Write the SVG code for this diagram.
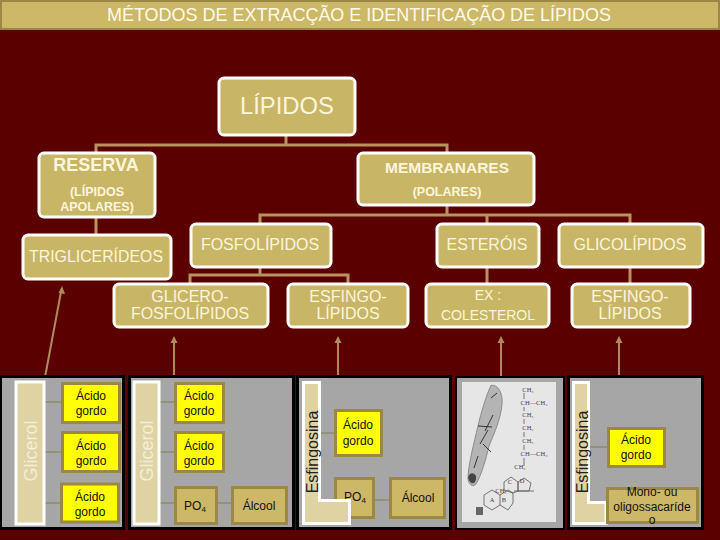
<svg xmlns="http://www.w3.org/2000/svg" width="720" height="540" viewBox="0 0 720 540">
<style>
text{font-family:"Liberation Sans",Arial,sans-serif;text-anchor:middle}
.n{fill:#c9b566;stroke:#fff;stroke-width:3}
.t{fill:#fbf6dc}
.b{font-weight:bold}
.c path{stroke:#b8935f;stroke-width:3;fill:none}
.a line{stroke:#b08a5c;stroke-width:2}
.a path{fill:#b08a5c}
.s{stroke:#8c8c6c;stroke-width:1.5;fill:none}
.p{fill:#a6a6a6;stroke:#000;stroke-width:3}
.y{fill:#ff0;stroke:#9a8844;stroke-width:3}
.k{fill:#ccb866;stroke:#9a8844;stroke-width:3}
.w{fill:#e0d3a3;stroke:#fff;stroke-width:3}
.d{fill:#111;font-size:12px}
.m{font-family:"Liberation Serif",serif;font-size:6.500px;fill:#444}
.h{fill:none;stroke:#555;stroke-width:.8}
</style>
<rect width="720" height="540" fill="#5a0000"/>
<g id="banner"><rect x="1" y="1" width="718" height="28" fill="#ccb866" stroke="#9a8844" stroke-width="2"/>
<text x="359" y="20.500" font-size="18" fill="#fffbe8" textLength="504" lengthAdjust="spacingAndGlyphs">MÉTODOS DE EXTRACÇÃO E IDENTIFICAÇÃO DE LÍPIDOS</text></g>
<g class="c" id="connectors">
<path d="M286 135V145M96 152V145H447V152M447 206V215M260 223V215H630V223M487 215V223M96 218V234M260 267V275M190 283V275H348V283M487 267V283M630 267V283"/>
</g>
<g id="lipidos"><rect class="n" x="219" y="78" width="136" height="57" rx="5"/><text class="t" x="287" y="114" font-size="24" textLength="94" lengthAdjust="spacingAndGlyphs">LÍPIDOS</text></g>
<g id="reserva"><rect class="n" x="39" y="153" width="116" height="64" rx="5"/><text class="t b" x="96" y="171" font-size="18">RESERVA</text><text class="t b" x="97" y="196" font-size="12.500">(LÍPIDOS</text><text class="t b" x="97" y="211" font-size="12.500">APOLARES)</text></g>
<g id="membranares"><rect class="n" x="358" y="153" width="176" height="52" rx="5"/><text class="t b" x="447" y="173" font-size="15.500">MEMBRANARES</text><text class="t b" x="447" y="196" font-size="12.500">(POLARES)</text></g>
<g id="trigliceridos"><rect class="n" x="23" y="235" width="148" height="44" rx="5"/><text class="t" x="96" y="262" font-size="16" textLength="134" lengthAdjust="spacingAndGlyphs">TRIGLICERÍDEOS</text></g>
<g id="fosfolipidos"><rect class="n" x="191" y="224" width="140" height="43" rx="5"/><text class="t" x="260" y="250" font-size="16">FOSFOLÍPIDOS</text></g>
<g id="esterois"><rect class="n" x="437" y="224" width="102" height="43" rx="5"/><text class="t" x="487" y="250" font-size="16">ESTERÓIS</text></g>
<g id="glicolipidos"><rect class="n" x="559" y="224" width="144" height="43" rx="5"/><text class="t" x="630" y="250" font-size="16">GLICOLÍPIDOS</text></g>
<g id="glicerofosfolipidos"><rect class="n" x="114" y="284" width="154" height="43" rx="5"/><text class="t" x="190" y="302" font-size="16">GLICERO-</text><text class="t" x="190" y="319" font-size="16">FOSFOLÍPIDOS</text></g>
<g id="esfingolipidos1"><rect class="n" x="288" y="284" width="120" height="43" rx="5"/><text class="t" x="348" y="302" font-size="16">ESFINGO-</text><text class="t" x="348" y="319" font-size="16">LÍPIDOS</text></g>
<g id="colesterol"><rect class="n" x="426" y="284" width="123" height="43" rx="5"/><text class="t" x="488" y="300" font-size="14">EX :</text><text class="t" x="488" y="320" font-size="14" textLength="94" lengthAdjust="spacingAndGlyphs">COLESTEROL</text></g>
<g id="esfingolipidos2"><rect class="n" x="572" y="284" width="118" height="43" rx="5"/><text class="t" x="630" y="302" font-size="16">ESFINGO-</text><text class="t" x="630" y="319" font-size="16">LÍPIDOS</text></g>
<g class="a" id="arrows">
<line x1="45" y1="377" x2="61" y2="292"/><path d="M62 286l-3.500 7 6.500 1z"/>
<line x1="174" y1="377" x2="174" y2="342"/><path d="M174 336l-3.500 7h7z"/>
<line x1="338" y1="377" x2="338" y2="342"/><path d="M338 336l-3.500 7h7z"/>
<line x1="501" y1="377" x2="501" y2="342"/><path d="M501 336l-3.500 7h7z"/>
<line x1="619" y1="377" x2="619" y2="342"/><path d="M619 336l-3.500 7h7z"/>
</g>
<g id="panel1"><rect class="p" x="0.500" y="376.500" width="123" height="152"/>
<path class="s" d="M43 402H61M43 452H61M43 503H60"/>
<rect class="w" x="16" y="382" width="28" height="142"/>
<text x="37" y="451" font-size="18" fill="#f3eedb" transform="rotate(-90 37 451)">Glicerol</text>
<rect class="y" x="62.500" y="383.500" width="57" height="39"/><text class="d" x="91" y="400">Ácido</text><text class="d" x="91" y="415">gordo</text>
<rect class="y" x="62.500" y="432.500" width="57" height="39"/><text class="d" x="91" y="450">Ácido</text><text class="d" x="91" y="465">gordo</text>
<rect class="y" x="61.500" y="484" width="57" height="38"/><text class="d" x="90" y="501">Ácido</text><text class="d" x="90" y="516">gordo</text></g>
<g id="panel2"><rect class="p" x="129.500" y="376.500" width="164" height="152"/>
<path class="s" d="M157 402H175M157 452H175M157 503H175M216 503H232"/>
<rect class="w" x="134" y="382" width="25" height="142"/>
<text x="153" y="451" font-size="18" fill="#f3eedb" transform="rotate(-90 153 451)">Glicerol</text>
<rect class="y" x="175.500" y="383.500" width="48" height="39"/><text class="d" x="199" y="400">Ácido</text><text class="d" x="199" y="415">gordo</text>
<rect class="y" x="175.500" y="432.500" width="48" height="39"/><text class="d" x="199" y="450">Ácido</text><text class="d" x="199" y="465">gordo</text>
<rect class="k" x="175.500" y="487.500" width="41" height="36"/><text class="d" x="195" y="510">PO<tspan font-size="8" dy="2">4</tspan></text>
<rect class="k" x="232.500" y="487.500" width="54" height="36"/><text class="d" x="259" y="510">Álcool</text></g>
<g id="panel3"><rect class="p" x="297.500" y="376.500" width="153" height="152"/>
<path class="s" d="M320 433H335M374 500H390"/>
<rect class="y" x="335.500" y="410.500" width="46" height="45"/><text class="d" x="358" y="429">Ácido</text><text class="d" x="358" y="445">gordo</text>
<rect class="k" x="335.500" y="478.500" width="38" height="39"/><text class="d" x="355" y="501">PO<tspan font-size="8" dy="2">4</tspan></text>
<rect class="k" x="390.500" y="478.500" width="54" height="39"/><text class="d" x="418" y="502">Álcool</text>
<path class="w" d="M303.500 382.500H319.500V500.500H349.500V523.500H303.500Z"/>
<text x="318" y="452" font-size="16" fill="#222" transform="rotate(-90 318 452)">Esfingosina</text></g>
<g id="panel4"><rect x="456" y="377" width="108" height="152" fill="#a6a6a6" stroke="#000" stroke-width="2"/>
<rect x="462" y="382" width="94" height="140" fill="#e6e6e6"/>
<path d="M491 385.300C498 384.300 503 393 502 404C501 419 493 436 489 446C486 459 481 476 476 484C473 488 468 484 468 478C468 466 474 443 478 426C481 413 486 396 491 385.300Z" fill="#b4b4b4" stroke="#8a8a8a"/>
<path d="M468 478C469 472 474 472 476 476C477 482 472 488 468 478Z" fill="#444"/>
<path d="M497 393l-6 5M478 426l14 1M493 415l-8 16M488 430l-8 14M483 444l8 8M478 456l-4 12" stroke="#333" stroke-width="1" fill="none"/>
<path class="h" d="M524 393V399M524 407V411M524 419V424M524 432V437M524 445V450M524 458V466"/>
<path class="h" d="M492 490l8 5v10l-8 5-8-5v-10zM500 495l8-5 5 3v10l-5 7-8-5M504 482l7-5 7 5v9l-5 2-9-3zM518 482l6-4 7 5-2 8h-11z"/>
<path class="h" d="M514 491H534"/>
<rect x="476" y="507" width="7" height="8" fill="#666"/>
<text class="m" x="528" y="392">CH₃</text><text class="m" x="534" y="405">CH—CH₃</text><text class="m" x="528" y="417">CH₂</text><text class="m" x="528" y="430">CH₂</text><text class="m" x="528" y="443">CH₂</text><text class="m" x="534" y="456">CH—CH₃</text><text class="m" x="520" y="469">CH₃</text><text class="m" x="501" y="493">CH₃</text>
<text class="m" x="492" y="502">A</text><text class="m" x="504" y="502">B</text><text class="m" x="510" y="484">C</text><text class="m" x="522" y="483">D</text></g>
<g id="panel5"><rect class="p" x="568.500" y="376.500" width="134" height="152"/>
<path class="s" d="M588 447H607M587 508H606"/>
<path class="w" d="M573.500 382.500H588.500V502.500H606V523.500H573.500Z"/>
<text x="588" y="452" font-size="16" fill="#222" transform="rotate(-90 588 452)">Esfingosina</text>
<rect class="y" x="608.500" y="428.500" width="56" height="38"/><text class="d" x="636" y="444">Ácido</text><text class="d" x="636" y="459">gordo</text>
<rect class="k" x="607.500" y="488.500" width="90" height="34"/><text class="d" x="652" y="496" font-size="11">Mono- ou</text><text class="d" x="652" y="511">oligossacaríde</text><text class="d" x="652" y="524">o</text></g>
</svg>
